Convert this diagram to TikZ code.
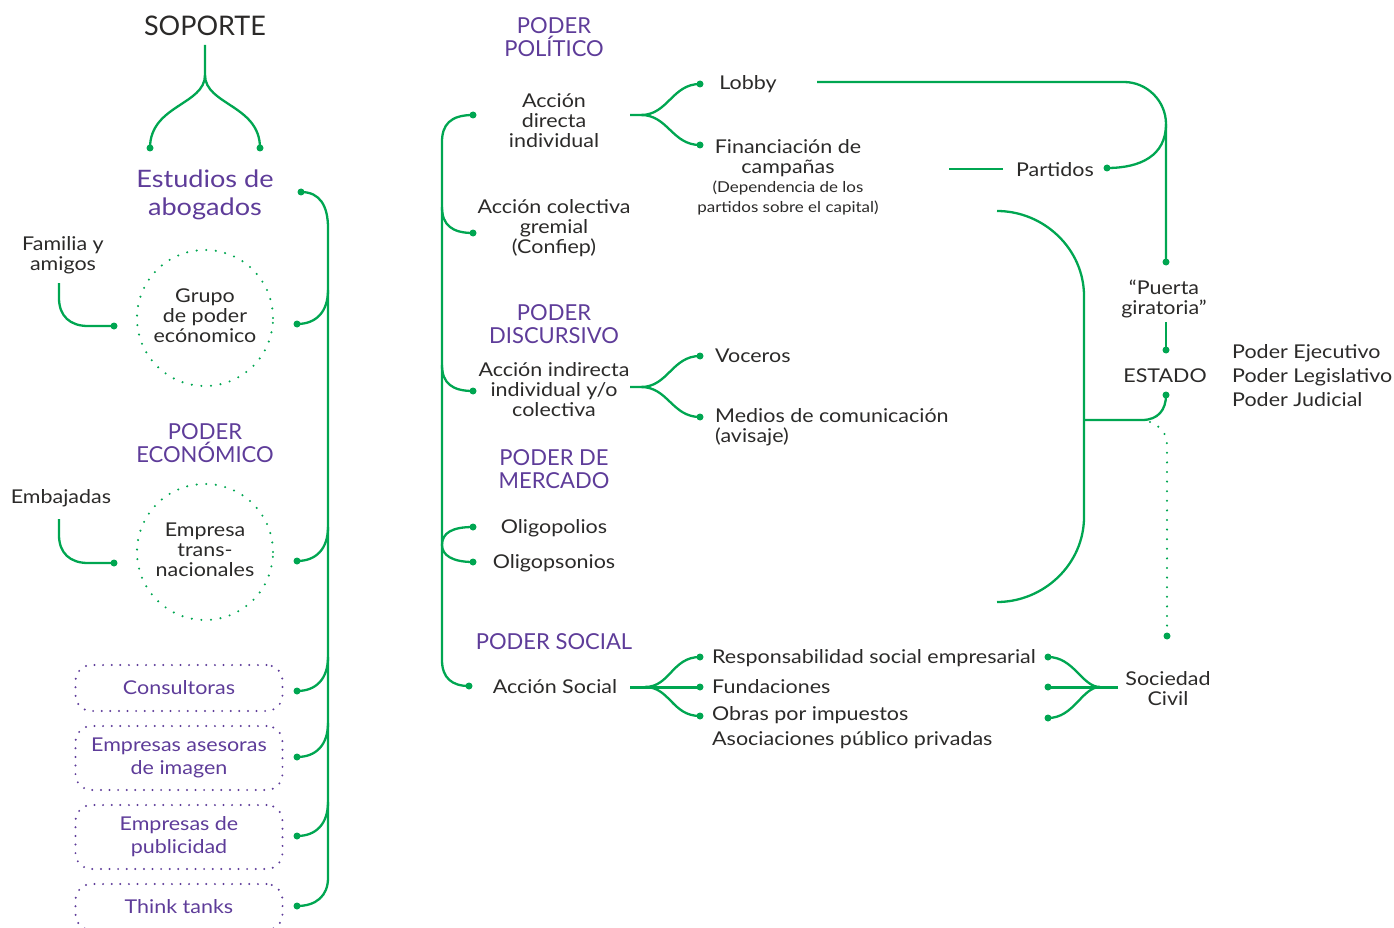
\documentclass[tikz,border=0pt]{standalone}
\usepackage{fontspec}
\setmainfont{Lato}
\newfontfamily\bodyfont{Lato}[FakeStretch=1.13]
\definecolor{gr}{HTML}{00A651}
\definecolor{pu}{HTML}{5E3C99}
\definecolor{dk}{HTML}{2B2A29}
\begin{document}
\begin{tikzpicture}[x=1pt,y=-1pt,
  ln/.style={draw=gr,line width=2.3pt},
  lnthick/.style={draw=gr,line width=3pt},
  gdot/.style={circle,fill=gr,inner sep=0pt,minimum size=7pt},
  gdots/.style={draw=gr,line width=2.3pt,line cap=round,dash pattern=on 0pt off 9.6pt},
  pdots/.style={draw=pu,line width=2.2pt,line cap=round,dash pattern=on 0pt off 8.6pt},
  txt/.style={text=dk,align=center,inner sep=0pt,yshift=-2pt,font=\bodyfont\fontsize{19}{20}\selectfont},
  txtl/.style={text=dk,align=left,inner sep=0pt,anchor=west,yshift=-2pt,font=\bodyfont\fontsize{19}{20}\selectfont},
  small/.style={text=dk,align=center,inner sep=0pt,yshift=-1pt,font=\bodyfont\fontsize{15}{20}\selectfont},
  hdr/.style={text=pu,align=center,inner sep=0pt,yshift=-1pt,font=\fontsize{22}{23}\selectfont},
  pbox/.style={pdots,rounded corners=16pt,minimum width=207pt,text=pu,align=center,inner sep=0pt,font=\bodyfont\fontsize{19}{23}\selectfont},
  gcirc/.style={gdots,circle,minimum size=136pt,inner sep=0pt}
]
\useasboundingbox (0,0) rectangle (1394,928);

% ---------- left column ----------
\node[text=dk,inner sep=0pt,font=\fontsize{27}{30}\selectfont] (soporte) at (205,26) {SOPORTE};
\node[text=pu,align=center,inner sep=0pt,yshift=-2pt,font=\bodyfont\fontsize{24}{28}\selectfont] (estudios) at (205,193) {Estudios de\\abogados};
\node[txt] (familia) at (63,253) {Familia y\\amigos};
\node[gcirc] (cgrupo) at (205,318) {};
\node[txt] (grupo) at (205,314) {Grupo\\de poder\\ecónomico};
\node[hdr] (pecon) at (205,442) {PODER\\ECONÓMICO};
\node[txt] (embajadas) at (61,496) {Embajadas};
\node[gcirc] (cempresa) at (205,552) {};
\node[txt] (empresa) at (205,548) {Empresa\\trans-\\nacionales};
\node[pbox,minimum height=46pt] (cons) at (179,688) {Consultoras};
\node[pbox,minimum height=64pt] (ases) at (179,758) {Empresas asesoras\\de imagen};
\node[pbox,minimum height=64pt] (publi) at (179,837) {Empresas de\\publicidad};
\node[pbox,minimum height=46pt] (think) at (179,907) {Think tanks};

\coordinate (sTop) at (205,45);
\coordinate (sMid) at (205,75);
\node[gdot] (sL) at (150,148) {};
\node[gdot] (sR) at (260,148) {};
\draw[ln] (sTop) -- (sMid) .. controls (205,105) and (150,105) .. (sL.center);
\draw[ln] (sMid) .. controls (205,105) and (260,105) .. (sR.center);

\node[gdot] (dEst) at (301,192) {};
\node[gdot] (dGrupo) at (297,324) {};
\node[gdot] (dEmp) at (297,561) {};
\node[gdot] (dCons) at (297,691) {};
\node[gdot] (dAses) at (297,757) {};
\node[gdot] (dPubl) at (297,836) {};
\node[gdot] (dThink) at (297,906) {};
\coordinate (vTop) at (328,228);
\coordinate (vBot) at (328,878);
\draw[ln] (dEst.center) .. controls (320,192) and (328,206) .. (vTop) -- (vBot) .. controls (328,896) and (316,906) .. (dThink.center);
\foreach \n/\y in {Grupo/324,Emp/561,Cons/691,Ases/757,Publ/836}{
  \coordinate (b\n) at (328,\y-34);
  \draw[ln] (b\n) .. controls (328,\y-12) and (316,\y) .. (d\n.center);
}
\coordinate (famTop) at (59,283);
\node[gdot] (dFam) at (114,326) {};
\draw[ln] (famTop) -- (59,298) .. controls (59,316) and (70,326) .. (88,326) -- (dFam.center);
\coordinate (embTop) at (59,519);
\node[gdot] (dEmb) at (114,563) {};
\draw[ln] (embTop) -- (59,535) .. controls (59,553) and (70,563) .. (88,563) -- (dEmb.center);

% ---------- middle column ----------
\node[hdr] (ppol) at (554,36) {PODER\\POLÍTICO};
\node[txt] (adi) at (554,119) {Acción\\directa\\individual};
\node[txt] (acg) at (554,226) {Acción colectiva\\gremial\\(Confiep)};
\node[hdr] (pdis) at (554,323) {PODER\\DISCURSIVO};
\node[txt] (aii) at (554,388) {Acción indirecta\\individual y/o\\colectiva};
\node[hdr] (pmer) at (554,468) {PODER DE\\MERCADO};
\node[txt] (oligop) at (554,526) {Oligopolios};
\node[txt] (oligos) at (554,561) {Oligopsonios};
\node[hdr] (psoc) at (554,641) {PODER SOCIAL};
\node[txt] (asoc) at (555,685) {Acción Social};

\node[gdot] (dAdi) at (473,115) {};
\node[gdot] (dAcg) at (473,233) {};
\node[gdot] (dAii) at (473,391) {};
\node[gdot] (dOp) at (473,527) {};
\node[gdot] (dOs) at (473,562) {};
\node[gdot] (dAs) at (469,686) {};
\coordinate (mTop) at (442,142);
\coordinate (mBot) at (442,660);
\draw[ln] (dAdi.center) .. controls (450,115) and (442,125) .. (mTop) -- (mBot) .. controls (442,678) and (452,686) .. (dAs.center);
\coordinate (bAcg) at (442,207);
\draw[ln] (bAcg) .. controls (442,225) and (452,233) .. (dAcg.center);
\coordinate (bAii) at (442,365);
\draw[ln] (bAii) .. controls (442,383) and (452,391) .. (dAii.center);
\coordinate (bOl) at (442,545);
\draw[ln] (dOp.center) .. controls (452,527) and (442,533) .. (bOl) .. controls (442,555) and (452,562) .. (dOs.center);

% forks
\node[txt] (lobby) at (748,82) {Lobby};
\node[txt] (finan) at (788,156) {Financiación de\\campañas};
\node[small] (dep) at (788,197) {(Dependencia de los\\partidos sobre el capital)};
\node[gdot] (dLobby) at (700,84) {};
\node[gdot] (dFin) at (700,145) {};
\coordinate (fA) at (630,115);
\coordinate (fA2) at (641,115);
\draw[ln] (fA) -- (fA2) .. controls (668,115) and (672,84) .. (dLobby.center);
\draw[ln] (fA2) .. controls (668,115) and (672,145) .. (dFin.center);

\node[txtl] (voceros) at (715,354) {Voceros};
\node[txtl] (medios) at (715,425) {Medios de comunicación\\(avisaje)};
\node[gdot] (dVoc) at (700,356) {};
\node[gdot] (dMed) at (700,417) {};
\coordinate (fB) at (630,387);
\coordinate (fB2) at (641,387);
\draw[ln] (fB) -- (fB2) .. controls (668,387) and (672,356) .. (dVoc.center);
\draw[ln] (fB2) .. controls (668,387) and (672,417) .. (dMed.center);

\node[txtl] (rse) at (712,656) {Responsabilidad social empresarial};
\node[txtl] (fund) at (712,685) {Fundaciones};
\node[txtl] (obras) at (712,713) {Obras por impuestos};
\node[txtl] (apps) at (712,738) {Asociaciones público privadas};
\node[gdot] (dRse) at (700,657) {};
\node[gdot] (dFund) at (700,687) {};
\node[gdot] (dObras) at (700,716) {};
\coordinate (fC) at (630,687);
\coordinate (fC2) at (645,687);
\draw[lnthick] (fC) -- (fC2) -- (dFund.center);
\draw[ln] (fC2) .. controls (670,687) and (672,657) .. (dRse.center);
\draw[ln] (fC2) .. controls (670,687) and (672,716) .. (dObras.center);

% ---------- right part ----------
\node[txt] (partidos) at (1055,168) {Partidos};
\node[txt] (puerta) at (1164,297) {“Puerta\\giratoria”};
\node[txt] (estado) at (1165,374) {ESTADO};
\node[text=dk,align=left,inner sep=0pt,anchor=west,yshift=-2pt,font=\bodyfont\fontsize{19}{24}\selectfont] (poderes) at (1232,374) {Poder Ejecutivo\\Poder Legislativo\\Poder Judicial};
\node[txt] (sociedad) at (1168,687) {Sociedad\\Civil};

\node[gdot] (dPart) at (1107,168) {};
\node[gdot] (dPuerta) at (1166,262) {};
\node[gdot] (dEstTop) at (1166,350) {};
\node[gdot] (dEstBot) at (1166,395) {};
\node[gdot] (dSoc) at (1167,636) {};
\node[gdot] (dRseR) at (1048,657) {};
\node[gdot] (dFundR) at (1048,687) {};
\node[gdot] (dObrasR) at (1048,718) {};

\coordinate (lobEnd) at (817,82);
\draw[ln] (lobEnd) -- (1124,82) .. controls (1147,82) and (1166,101) .. (1166,124) -- (dPuerta.center);
\draw[ln] (dPart.center) .. controls (1140,168) and (1166,156) .. (1166,124);
\coordinate (pa1) at (949,169);
\coordinate (pa2) at (1003,169);
\draw[ln,line width=2.8pt] (pa1) -- (pa2);
\coordinate (pBot) at (1166,322);
\draw[ln] (pBot) -- (dEstTop.center);

\coordinate (bT) at (997,211);
\coordinate (bB) at (997,602);
\draw[ln] (bT) .. controls (1044,211) and (1084,249) .. (1084,296) -- (1084,517) .. controls (1084,564) and (1044,602) .. (bB);
\coordinate (hL) at (1084,420);
\draw[ln] (hL) -- (1142,420) .. controls (1158,420) and (1166,410) .. (dEstBot.center);
\coordinate (dotStart) at (1150,422);
\draw[gdots] (dotStart) .. controls (1160,426) and (1167,433) .. (1167,445) -- (dSoc.center);

\coordinate (socL) at (1118,687);
\coordinate (socM) at (1100,687);
\draw[lnthick] (socL) -- (socM) -- (dFundR.center);
\draw[ln] (socM) .. controls (1082,687) and (1074,657) .. (dRseR.center);
\draw[ln] (socM) .. controls (1082,687) and (1074,718) .. (dObrasR.center);
\end{tikzpicture}
\end{document}
